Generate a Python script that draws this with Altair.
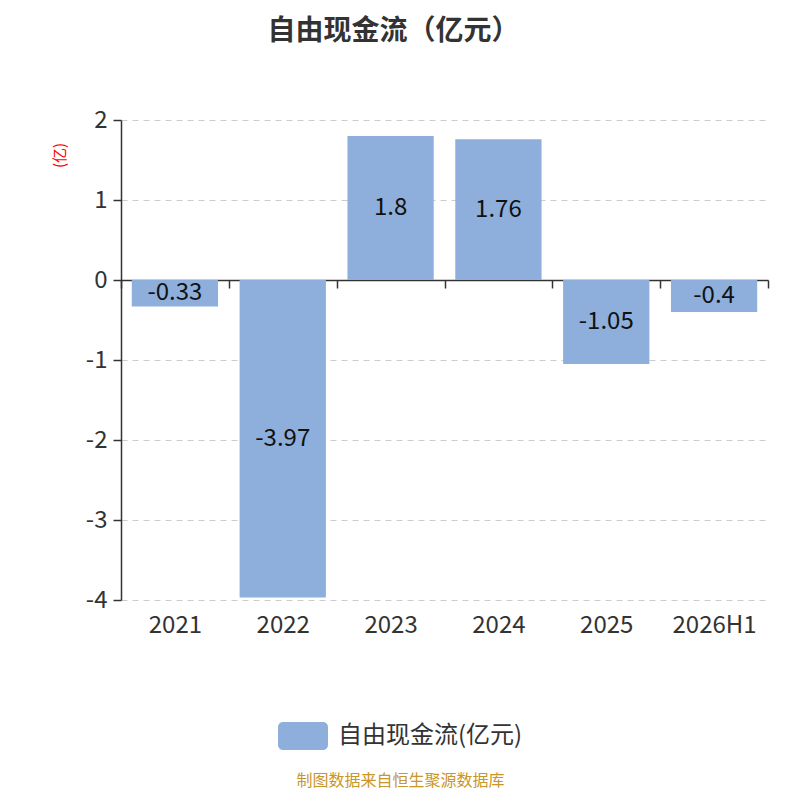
import altair as alt
import pandas as pd

categories = ["2021", "2022", "2023", "2024", "2025", "2026H1"]
values = [-0.33, -3.97, 1.8, 1.76, -1.05, -0.4]
value_labels = ["-0.33", "-3.97", "1.8", "1.76", "-1.05", "-0.4"]
series_name = "自由现金流(亿元)"
y_ticks = [-4, -3, -2, -1, 0, 1, 2]

df = pd.DataFrame({
    "cat": categories,
    "v": values,
    "lab": value_labels,
    "series": [series_name] * len(categories),
})

FONT = "Noto Sans CJK SC"
BAR = "#8eaedb"

x_enc = alt.X(
    "cat:N",
    sort=categories,
    scale=alt.Scale(paddingInner=0, paddingOuter=0),
    axis=alt.Axis(
        title="制图数据来自恒生聚源数据库",
        titleColor="#c8962a",
        titleFontSize=16,
        titleFontWeight="normal",
        titleFont=FONT,
        titleX=279,
        titleY=500,
        titleBaseline="middle",
        titleAlign="center",
        offset=-320,
        domainColor="#333333",
        domainWidth=1.5,
        tickColor="#333333",
        tickWidth=1.5,
        tickSize=8,
        tickBand="extent",
        labelAngle=0,
        labelFontSize=24,
        labelColor="#333333",
        labelFont=FONT,
        labelPadding=325,
        labelBaseline="top",
        grid=False,
    ),
)

y_scale = alt.Scale(domain=[-4, 2], nice=False, zero=False)

bars = alt.Chart(df).mark_bar(width=alt.RelativeBandSize(0.8)).encode(
    x=x_enc,
    y=alt.Y(
        "v:Q",
        scale=y_scale,
        axis=alt.Axis(
            values=y_ticks,
            labelExpr="'' + datum.value",
            title="(亿)",
            titleColor="#ff0000",
            titleFontSize=15,
            titleFontWeight="normal",
            titleFont=FONT,
            titleAngle=-90,
            titleX=-62,
            titleY=35,
            titleAlign="center",
            titleBaseline="middle",
            domainColor="#333333",
            domainWidth=1.5,
            tickColor="#333333",
            tickWidth=1.5,
            tickSize=8,
            labelFontSize=24,
            labelColor="#333333",
            labelFont=FONT,
            labelPadding=6,
            gridColor="#cccccc",
            gridDash=[6, 5],
            gridWidth=1.2,
        ),
    ),
    y2=alt.datum(0),
    color=alt.Color(
        "series:N",
        scale=alt.Scale(range=[BAR]),
        legend=alt.Legend(
            title=None,
            orient="none",
            legendX=157,
            legendY=591,
            padding=0,
            symbolType="M-0.8,-0.56 H0.8 A0.2,0.2 0 0 1 1,-0.36 V0.36 A0.2,0.2 0 0 1 0.8,0.56 H-0.8 A0.2,0.2 0 0 1 -1,0.36 V-0.36 A0.2,0.2 0 0 1 -0.8,-0.56 Z",
            symbolSize=2500,
            symbolStrokeWidth=0,
            symbolOpacity=1,
            labelFontSize=24,
            labelLimit=400,
            labelColor="#333333",
            labelFont=FONT,
            labelOffset=10,
        ),
    ),
)

texts = alt.Chart(df).transform_calculate(mid="datum.v / 2").mark_text(
    fontSize=24, color="#111111", font=FONT, baseline="middle", align="center"
).encode(
    x=alt.X("cat:N", sort=categories),
    y=alt.Y("mid:Q", scale=y_scale),
    text="lab:N",
)

chart = alt.layer(bars, texts).properties(
    width=647,
    height=480,
    autosize=alt.AutoSizeParams(type="none"),
    padding={"left": 113, "top": 112, "right": 24, "bottom": 192},
    title=alt.TitleParams(
        text="自由现金流（亿元）",
        fontSize=28,
        fontWeight="bold",
        font=FONT,
        color="#333333",
        anchor="middle",
        dx=-51,
        offset=62,
    ),
).configure_view(stroke=None)

chart.save("out.html", embed_options={"renderer": "svg", "actions": False})
